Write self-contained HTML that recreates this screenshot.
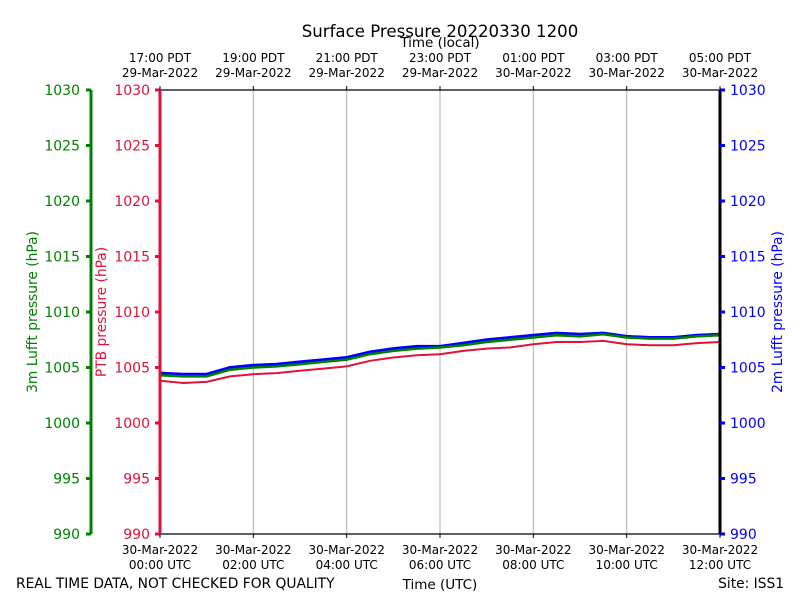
<!DOCTYPE html>
<html><head><meta charset="utf-8"><style>
body{margin:0;background:#fff}
svg text{font-family:"DejaVu Sans","Liberation Sans",sans-serif}
</style></head><body>
<svg id="c" width="800" height="600" xmlns="http://www.w3.org/2000/svg"></svg>
<script>
const hours=[0,0.5,1,1.5,2,2.5,3,3.5,4,4.5,5,5.5,6,6.5,7,7.5,8,8.5,9,9.5,10,10.5,11,11.5,12];
const ptb=[1003.8,1003.6,1003.7,1004.2,1004.4,1004.5,1004.7,1004.9,1005.1,1005.6,1005.9,1006.1,1006.2,1006.5,1006.7,1006.8,1007.1,1007.3,1007.3,1007.4,1007.1,1007.0,1007.0,1007.2,1007.3];
const luft3=[1004.3,1004.2,1004.2,1004.8,1005.0,1005.1,1005.3,1005.5,1005.7,1006.2,1006.5,1006.7,1006.8,1007.0,1007.3,1007.5,1007.7,1007.9,1007.8,1008.0,1007.7,1007.6,1007.6,1007.8,1007.9];
const luft2=[1004.5,1004.4,1004.4,1005.0,1005.2,1005.3,1005.5,1005.7,1005.9,1006.4,1006.7,1006.9,1006.9,1007.2,1007.5,1007.7,1007.9,1008.1,1008.0,1008.1,1007.8,1007.7,1007.7,1007.9,1008.0];
const yTicks=[990,995,1000,1005,1010,1015,1020,1025,1030];
const xTickHours=[0,2,4,6,8,10,12];
const utcLabels=["00:00 UTC","02:00 UTC","04:00 UTC","06:00 UTC","08:00 UTC","10:00 UTC","12:00 UTC"];
const localLabels=["17:00 PDT","19:00 PDT","21:00 PDT","23:00 PDT","01:00 PDT","03:00 PDT","05:00 PDT"];
const localDates=["29-Mar-2022","29-Mar-2022","29-Mar-2022","29-Mar-2022","30-Mar-2022","30-Mar-2022","30-Mar-2022"];

const L=160,R=720,T=90,B=534;
const x=h=>L+(h/12)*(R-L);
const y=p=>B-(p-990)/40*(B-T);
const svg=document.getElementById('c');
const NS="http://www.w3.org/2000/svg";
function el(tag,attrs,txt){const e=document.createElementNS(NS,tag);for(const k in attrs)e.setAttribute(k,attrs[k]);if(txt!==undefined)e.textContent=txt;svg.appendChild(e);return e;}

xTickHours.forEach(h=>{const g=el('line',{x1:x(h),x2:x(h),y1:T,y2:B,stroke:'#b0b0b0','stroke-width':1});

});

function series(vals,color,name,w){const d=vals.map((v,i)=>(i?'L':'M')+x(hours[i]).toFixed(1)+','+y(v).toFixed(1)).join('');
const p=el('path',{d:d,fill:'none',stroke:color,'stroke-width':w});

}
series(ptb,'#dc143c','ptb-pressure-line',2);
series(luft2,'#0000ff','luft-2m-pressure-line',3);
series(luft3,'#008000','luft-3m-pressure-line',2.5);

el('line',{x1:L,x2:R,y1:T,y2:T,stroke:'#000','stroke-width':1.2});
el('line',{x1:L,x2:R,y1:B,y2:B,stroke:'#000','stroke-width':1.2});
el('line',{x1:R,x2:R,y1:T,y2:B,stroke:'#000','stroke-width':3});
el('line',{x1:L,x2:L,y1:T,y2:B,stroke:'#dc143c','stroke-width':3});
el('line',{x1:91,x2:91,y1:T,y2:B,stroke:'#008000','stroke-width':3});

yTicks.forEach(v=>{const yy=y(v);
el('line',{x1:86,x2:91,y1:yy,y2:yy,stroke:'#008000','stroke-width':3});
el('text',{x:80,y:yy+5,'text-anchor':'end','font-size':14,fill:'#008000'},v);
el('line',{x1:155,x2:160,y1:yy,y2:yy,stroke:'#dc143c','stroke-width':3});
el('text',{x:150,y:yy+5,'text-anchor':'end','font-size':14,fill:'#dc143c'},v);
el('line',{x1:720,x2:725,y1:yy,y2:yy,stroke:'#0000ff','stroke-width':3});
el('text',{x:730,y:yy+5,'text-anchor':'start','font-size':14,fill:'#0000ff'},v);});

xTickHours.forEach((h,i)=>{const xx=x(h);
el('line',{x1:xx,x2:xx,y1:B,y2:B+4,stroke:'#000'});
el('line',{x1:xx,x2:xx,y1:T-4,y2:T,stroke:'#000'});
el('text',{x:xx,y:554,'text-anchor':'middle','font-size':12},'30-Mar-2022');
el('text',{x:xx,y:569,'text-anchor':'middle','font-size':12},utcLabels[i]);
el('text',{x:xx,y:62,'text-anchor':'middle','font-size':12},localLabels[i]);
el('text',{x:xx,y:77,'text-anchor':'middle','font-size':12},localDates[i]);});

const t=el('text',{x:440,y:37,'text-anchor':'middle','font-size':16.6},'Surface Pressure 20220330 1200');

el('text',{x:440,y:47,'text-anchor':'middle','font-size':13.5},'Time (local)');
el('text',{x:440,y:589,'text-anchor':'middle','font-size':13.5},'Time (UTC)');
el('text',{x:16,y:588,'font-size':13.8},'REAL TIME DATA, NOT CHECKED FOR QUALITY');
el('text',{x:784,y:588,'text-anchor':'end','font-size':13.8},'Site: ISS1');
el('text',{x:0,y:0,transform:'translate(37,312) rotate(-90)','text-anchor':'middle','font-size':13.8,fill:'#008000'},'3m Lufft pressure (hPa)');
el('text',{x:0,y:0,transform:'translate(106,312) rotate(-90)','text-anchor':'middle','font-size':13.8,fill:'#dc143c'},'PTB pressure (hPa)');
el('text',{x:0,y:0,transform:'translate(782,312) rotate(-90)','text-anchor':'middle','font-size':13.8,fill:'#0000ff'},'2m Lufft pressure (hPa)');
</script>
</body></html>
